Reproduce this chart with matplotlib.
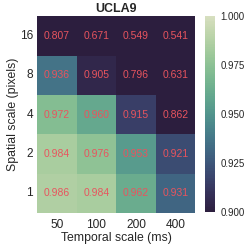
import numpy as np
import matplotlib
matplotlib.use("Agg")
import matplotlib.pyplot as plt
import seaborn as sns

temporal = ["50", "100", "200", "400"]
spatial = ["16", "8", "4", "2", "1"]
row16 = [0.807, 0.671, 0.549, 0.541]
row8 = [0.936, 0.905, 0.796, 0.631]
row4 = [0.972, 0.960, 0.915, 0.862]
row2 = [0.984, 0.976, 0.953, 0.921]
row1 = [0.986, 0.984, 0.962, 0.931]

sns.set_style("white")
plt.rcParams['font.family'] = ['Liberation Sans', 'DejaVu Sans']

data = np.array([row16, row8, row4, row2, row1])
cmap = sns.cubehelix_palette(start=.5, rot=-.75, as_cmap=True, reverse=True)

fig = plt.figure(figsize=(2.49, 2.48), dpi=100)
ax = fig.add_axes([0.149, 0.141, 0.635, 0.794])
cax = fig.add_axes([0.823, 0.145, 0.04, 0.79])
sns.heatmap(data, ax=ax, cbar_ax=cax, cmap=cmap, vmin=0.9, vmax=1.0,
            annot=True, fmt=".3f", annot_kws={"color": "#e8545e", "fontsize": 7.5},
            xticklabels=temporal, yticklabels=spatial)
ax.set_title("UCLA9", fontsize=9, fontweight="bold", pad=3)
ax.set_xlabel("Temporal scale (ms)", fontsize=8.8, labelpad=1)
ax.set_ylabel("Spatial scale (pixels)", fontsize=8.8, labelpad=0.5)
ax.tick_params(axis='x', labelsize=8.6, length=0, pad=4)
ax.tick_params(axis='y', labelsize=8.6, length=0, pad=3, rotation=0)
cax.tick_params(labelsize=7, length=0, pad=4)
cax.set_yticks([0.9, 0.925, 0.95, 0.975, 1.0])
cax.set_yticklabels(["0.900", "0.925", "0.950", "0.975", "1.000"])
for s in cax.spines.values():
    s.set_visible(False)
fig.savefig("out.png", dpi=100)
